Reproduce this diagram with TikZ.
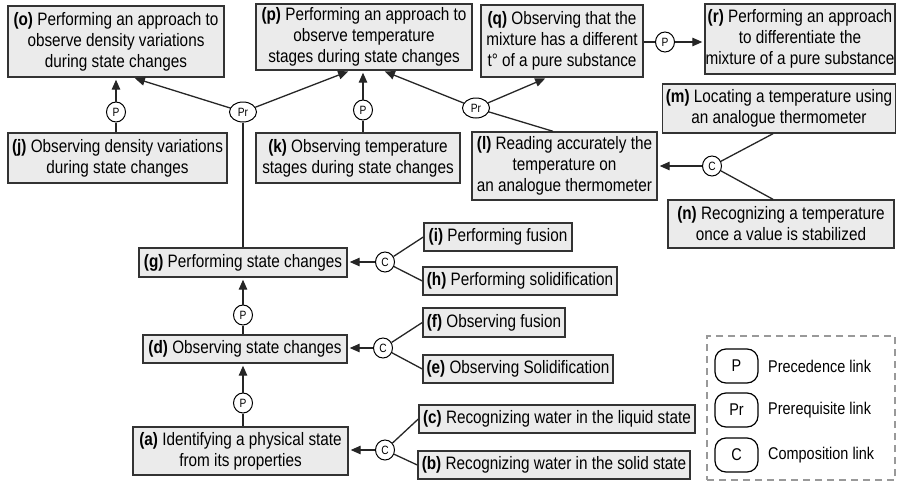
\documentclass[tikz,border=0pt]{standalone}
\usepackage{fontspec}
\setmainfont[FakeStretch=0.85]{Liberation Sans}
\usetikzlibrary{arrows.meta,shapes.geometric}
\begin{document}
\begin{tikzpicture}[x=1pt,y=-1pt,
  box/.style={draw=black!80, line width=1.4pt, fill=black!8, align=center, inner sep=0pt,
    font=\fontsize{18}{21}\selectfont},
  lk/.style={ellipse, draw=black, line width=1pt, fill=white, inner sep=0pt,
    minimum width=19pt, minimum height=20pt, font=\fontsize{12}{13}\selectfont},
  lkr/.style={lk, minimum width=27pt},
  arr/.style={-{Triangle[length=10pt,width=8.5pt]}, line width=1.3pt, draw=black!85, shorten >=2pt},
  ln/.style={line width=1.3pt, draw=black!85},
  legbox/.style={draw=black, line width=1.2pt, rounded corners=11pt, minimum width=43pt,
    minimum height=34pt, inner sep=0pt, font=\fontsize{17}{19}\selectfont},
  legtext/.style={anchor=west, inner sep=0pt, font=\fontsize{17}{19}\selectfont}
]
\useasboundingbox (0,0) rectangle (897,482);
\fill[white] (0,0) rectangle (897,482);

% boxes
\node[box, minimum width=216pt, minimum height=71pt] (o) at (116,41.5)
  {\textbf{(o)} Performing an approach to\\observe density variations\\during state changes};
\node[box, minimum width=216pt, minimum height=66pt] (p) at (364,37)
  {\textbf{(p)} Performing an approach to\\observe temperature\\stages during state changes};
\node[box, minimum width=162pt, minimum height=72pt] (q) at (562,41)
  {\textbf{(q)} Observing that the\\mixture has a different\\t\textdegree{} of a pure substance};
\node[box, minimum width=190pt, minimum height=70pt] (r) at (800,39)
  {\textbf{(r)} Performing an approach\\to differentiate the\\mixture of a pure substance};
\node[box, minimum width=233pt, minimum height=49pt] (m) at (779,108.5)
  {\textbf{(m)} Locating a temperature using\\an analogue thermometer};
\node[box, minimum width=185pt, minimum height=68pt] (l) at (564.5,166)
  {\textbf{(l)} Reading accurately the\\temperature on\\an analogue thermometer};
\node[box, minimum width=226pt, minimum height=48pt] (n) at (781,224)
  {\textbf{(n)} Recognizing a temperature\\once a value is stabilized};
\node[box, minimum width=219pt, minimum height=50pt] (j) at (117.5,158)
  {\textbf{(j)} Observing density variations\\during state changes};
\node[box, minimum width=204pt, minimum height=50pt] (k) at (358,158)
  {\textbf{(k)} Observing temperature\\stages during state changes};
\node[box, minimum width=208pt, minimum height=29pt] (g) at (243,262.5)
  {\textbf{(g)} Performing state changes};
\node[box, minimum width=204pt, minimum height=28pt] (d) at (245,349)
  {\textbf{(d)} Observing state changes};
\node[box, minimum width=215pt, minimum height=48pt] (a) at (240.5,451)
  {\textbf{(a)} Identifying a physical state\\from its properties};
\node[box, minimum width=148pt, minimum height=28pt] (i) at (498,237)
  {\textbf{(i)} Performing fusion};
\node[box, minimum width=194pt, minimum height=28pt] (h) at (520,281)
  {\textbf{(h)} Performing solidification};
\node[box, minimum width=142pt, minimum height=29pt] (f) at (494,322.5)
  {\textbf{(f)} Observing fusion};
\node[box, minimum width=190pt, minimum height=28pt] (e) at (518,369)
  {\textbf{(e)} Observing Solidification};
\node[box, minimum width=276pt, minimum height=28pt] (c) at (557,419)
  {\textbf{(c)} Recognizing water in the liquid state};
\node[box, minimum width=272pt, minimum height=28pt] (b) at (554,465)
  {\textbf{(b)} Recognizing water in the solid state};

% link nodes
\node[lk] (P1) at (116,112) {P};
\node[lkr] (Pr1) at (243,112) {Pr};
\node[lk] (P2) at (363,110) {P};
\node[lkr] (Pr2) at (476,108) {Pr};
\node[lk] (P3) at (665,42) {P};
\node[lk] (C1) at (712,166) {C};
\node[lk] (C2) at (385,262) {C};
\node[lk] (P4) at (243,315) {P};
\node[lk] (C3) at (383,348) {C};
\node[lk] (P5) at (243,403) {P};
\node[lk] (C4) at (385,450) {C};

% connectors
\draw[ln] (P1) -- (P1 |- j.north);
\draw[arr] (P1) -- (P1 |- o.south);
\draw[arr] (Pr1) -- ([xshift=17pt]o.south);
\draw[arr] (Pr1) -- ([xshift=-14pt]p.south);
\draw[ln] (Pr1) -- (Pr1 |- g.north);
\draw[ln] (P2) -- (P2 |- k.north);
\draw[arr] (P2) -- (P2 |- p.south);
\draw[arr] (Pr2) -- ([xshift=19pt]p.south);
\draw[arr] (Pr2) -- ([xshift=-15pt]q.south);
\draw[ln] (Pr2) -- ([xshift=-11.5pt]l.north);
\draw[ln] (P3) -- (P3 -| q.east);
\draw[arr] (P3) -- (P3 -| r.west);
\draw[arr] (C1) -- (C1 -| l.east);
\draw[ln] (C1) -- ([xshift=-6pt]m.south);
\draw[ln] (C1) -- ([xshift=-8pt]n.north);
\draw[arr] (C2) -- (C2 -| g.east);
\draw[ln] (C2) -- (i.west);
\draw[ln] (C2) -- (h.west);
\draw[ln] (P4) -- (P4 |- d.north);
\draw[arr] (P4) -- (P4 |- g.south);
\draw[arr] (C3) -- (C3 -| d.east);
\draw[ln] (C3) -- (f.west);
\draw[ln] (C3) -- (e.west);
\draw[ln] (P5) -- (P5 |- a.north);
\draw[arr] (P5) -- (P5 |- d.south);
\draw[arr] (C4) -- (C4 -| a.east);
\draw[ln] (C4) -- (c.west);
\draw[ln] (C4) -- (b.west);

% legend
\node[draw=black!40, line width=1.3pt, dash pattern=on 7pt off 5pt, minimum width=188pt,
  minimum height=144pt, inner sep=0pt] (leg) at (801,408) {};
\node[legbox] (lp) at (736.5,366) {P};
\node[legbox] (lpr) at (736.5,410) {Pr};
\node[legbox] (lc) at (736.5,455) {C};
\node[legtext] (lpt) at (768,366) {Precedence link};
\node[legtext] (lprt) at (768,410) {Prerequisite link};
\node[legtext] (lct) at (768,455) {Composition link};
\end{tikzpicture}
\end{document}
